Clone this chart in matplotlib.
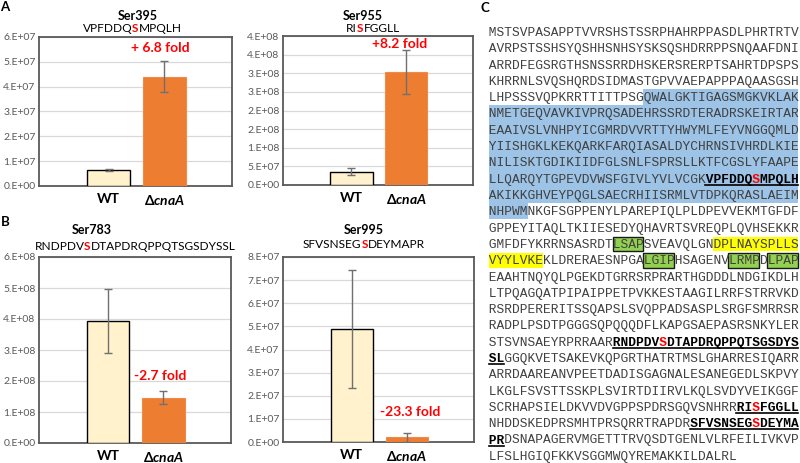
import matplotlib
matplotlib.use('Agg')
import matplotlib.pyplot as plt
from matplotlib.patches import Rectangle
from matplotlib.lines import Line2D
from matplotlib.font_manager import FontProperties, findfont, get_font

plt.rcParams['mathtext.fontset'] = 'custom'
plt.rcParams['mathtext.it'] = 'Lato:italic:bold'
plt.rcParams['mathtext.rm'] = 'Lato:bold'
plt.rcParams['mathtext.bf'] = 'Lato:bold'

SANS = ['Lato', 'DejaVu Sans']
MONO = 'Liberation Mono'

# ---------------- data ----------------
categories = ['WT', r'Δ$\it{cnaA}$']
site_titles = ['Ser395', 'Ser955', 'Ser783', 'Ser995']
peptides = ['VPFDDQSMPQLH', 'RISFGGLL', 'RNDPDVSDTAPDRQPPQTSGSDYSSL', 'SFVSNSEGSDEYMAPR']
site_index = [6, 2, 6, 8]
wt_values = [6.3e6, 3.6e7, 3.93e8, 4.9e7]
wt_errors = [0.4e6, 0.9e7, 1.04e8, 2.55e7]
cna_values = [4.4e7, 3.03e8, 1.46e8, 2.0e6]
cna_errors = [0.63e7, 0.6e8, 0.215e8, 1.9e6]
fold_labels = ['+ 6.8 fold', '+8.2 fold', '-2.7 fold', '-23.3 fold']
ytick_values = [
    [0, 1e7, 2e7, 3e7, 4e7, 5e7, 6e7],
    [0, 5e7, 1e8, 1.5e8, 2e8, 2.5e8, 3e8, 3.5e8, 4e8],
    [0, 1e8, 2e8, 3e8, 4e8, 5e8, 6e8],
    [0, 1e7, 2e7, 3e7, 4e7, 5e7, 6e7, 7e7, 8e7],
]
ytick_labels = [
    ['0.E+00', '1.E+07', '2.E+07', '3.E+07', '4.E+07', '5.E+07', '6.E+07'],
    ['0.E+00', '5.E+07', '1.E+08', '2.E+08', '2.E+08', '3.E+08', '3.E+08', '4.E+08', '4.E+08'],
    ['0.E+00', '1.E+08', '2.E+08', '3.E+08', '4.E+08', '5.E+08', '6.E+08'],
    ['0.E+00', '1.E+07', '2.E+07', '3.E+07', '4.E+07', '5.E+07', '6.E+07', '7.E+07', '8.E+07'],
]

seq_lines = [
    'MSTSVPASAPPTVVRSHSTSSRPHAHRPPASDLPHRTRTV',
    'AVRPSTSSHSYQSHHSNHSYSKSQSHDRRPPSNQAAFDNI',
    'ARRDFEGSRGTHSNSSRRDHSKERSRERPTSAHRTDPSPS',
    'KHRRNLSVQSHQRDSIDMASTGPVVAEPAPPPAQAASGSH',
    'LHPSSSVQPKRRTTITTPSGQWALGKTIGAGSMGKVKLAK',
    'NMETGEQVAVKIVPRQSADEHRSSRDTERADRSKEIRTAR',
    'EAAIVSLVNHPYICGMRDVVRTTYHWYMLFEYVNGGQMLD',
    'YIISHGKLKEKQARKFARQIASALDYCHRNSIVHRDLKIE',
    'NILISKTGDIKIIDFGLSNLFSPRSLLKTFCGSLYFAAPE',
    'LLQARQYTGPEVDVWSFGIVLYVLVCGKVPFDDQSMPQLH',
    'AKIKKGHVEYPQGLSAECRHIISRMLVTDPKQRASLAEIM',
    'NHPWMNKGFSGPPENYLPAREPIQLPLDPEVVEKMTGFDF',
    'GPPEYITAQLTKIIESEDYQHAVRTSVREQPLQVHSEKKR',
    'GMFDFYKRRNSASRDTLSAPSVEAVQLGNDPLNAYSPLLS',
    'VYYLVKEKLDRERAESNPGALGIPHSAGENVLRMPDLPAP',
    'EAAHTNQYQLPGEKDTGRRSRPRARTHGDDDLNDGIKDLH',
    'LTPQAGQATPIPAIPPETPVKKESTAAGILRRFSTRRVKD',
    'RSRDPERERITSSQAPSLSVQPPADSASPLSRGFSMRRSR',
    'RADPLPSDTPGGGSQPQQQDFLKAPGSAEPASRSNKYLER',
    'STSVNSAEYRPRRAARRNDPDVSDTAPDRQPPQTSGSDYS',
    'SLGGQKVETSAKEVKQPGRTHATRTMSLGHARRESIQARR',
    'ARRDAAREANVPEETDADISGAGNALESANEGEDLSKPVY',
    'LKGLFSVSTTSSKPLSVIRTDIIRVLKQLSVDYVEIKGGF',
    'SCRHAPSIELDKVVDVGPPSPDRSGQVSNHRRRISFGGLL',
    'NHDDSKEDPRSMHTPRSQRRTRAPDRSFVSNSEGSDEYMA',
    'PRDSNAPAGERVMGETTTRVQSDTGENLVLRFEILIVKVP',
    'LFSLHGIQFKKVSGGMWQYREMAKKILDALRL',
]
# (line, start, end) ranges
blue_ranges = [(4, 20, 40), (5, 0, 40), (6, 0, 40), (7, 0, 40), (8, 0, 40),
               (9, 0, 40), (10, 0, 40), (11, 0, 5)]
yellow_ranges = [(13, 29, 40), (14, 0, 7)]
green_ranges = [(13, 16, 20), (14, 20, 24), (14, 31, 35), (14, 36, 40)]
bold_ranges = [(9, 28, 40), (19, 16, 40), (20, 0, 2), (23, 32, 40), (24, 26, 40), (25, 0, 2)]
red_sites = [(9, 34), (19, 22), (23, 34), (24, 34)]

# ---------------- layout ----------------
W, H = 800, 463
DPI = 100
fig = plt.figure(figsize=(8, 4.63), dpi=DPI)

ov = fig.add_axes([0, 0, 1, 1], zorder=0)
ov.set_xlim(0, W)
ov.set_ylim(H, 0)
ov.axis('off')
ov.patch.set_alpha(0)

top = fig.add_axes([0, 0, 1, 1], zorder=10)
top.set_xlim(0, W)
top.set_ylim(H, 0)
top.axis('off')
top.patch.set_alpha(0)

axes_px = [(39, 37, 232, 186), (283, 36, 473, 185), (39, 257, 231, 443), (283, 257, 474, 442)]
title_xy = [(138, 16), (363, 16), (92, 230), (364, 230)]
pep_xy = [(132, 29), (373, 29), (135, 247), (364, 245)]
fold_xy = [(160, 48), (400, 44), (160, 376), (410, 412)]

WT_COLOR = '#FFF2CC'
CNA_COLOR = '#ED7D31'
GRAY = '#595959'

for k in range(4):
    x0, y0, x1, y1 = axes_px[k]
    ax = fig.add_axes([x0 / W, 1 - y1 / H, (x1 - x0) / W, (y1 - y0) / H], zorder=2)
    ax.bar([0], [wt_values[k]], width=0.77, color=WT_COLOR, edgecolor='black', linewidth=1.0, zorder=3)
    ax.bar([1], [cna_values[k]], width=0.77, color=CNA_COLOR, edgecolor='#F08A48', linewidth=0.8, zorder=3)
    ax.errorbar([0, 1], [wt_values[k], cna_values[k]], yerr=[wt_errors[k], cna_errors[k]],
                fmt='none', ecolor='#707070', elinewidth=1.0, capsize=3, capthick=1.0, zorder=4)
    ax.set_xlim(-1.25, 2.22)
    ax.set_ylim(0, ytick_values[k][-1])
    ax.set_yticks(ytick_values[k])
    ax.set_yticklabels(ytick_labels[k], fontsize=7.5, color=GRAY, family=SANS)
    ax.set_xticks([0, 1])
    ax.set_xticklabels(categories, fontsize=10, fontweight='bold', family=SANS)
    ax.tick_params(axis='both', length=0)
    ax.tick_params(axis='y', pad=2.5)
    ax.tick_params(axis='x', pad=5)
    ax.grid(axis='y', color='#D9D9D9', linewidth=0.9, zorder=0)
    ax.set_axisbelow(True)
    for sp in ax.spines.values():
        sp.set_color('#595959')
        sp.set_linewidth(1.3)
    fx, fy = fold_xy[k]
    top.text(fx, fy, fold_labels[k], color='#FF0000', fontsize=10, fontweight='bold',
             family=SANS, ha='center', va='center')


def advance_px(s, size_pt, weight='normal'):
    prop = FontProperties(family='Lato', weight=weight, size=size_pt)
    font = get_font(findfont(prop))
    font.set_size(size_pt, DPI)
    return sum(font.load_char(ord(ch)).linearHoriAdvance / 65536.0 for ch in s)


PEP_PT = 8.6
for k in range(4):
    tx, ty = title_xy[k]
    ov.text(tx, ty, site_titles[k], fontsize=9, fontweight='bold', family=SANS,
            ha='center', va='center', color='black')
    px, py = pep_xy[k]
    pep = peptides[k]
    i = site_index[k]
    pre, s, post = pep[:i], pep[i], pep[i + 1:]
    w_pre = advance_px(pre, PEP_PT)
    w_s = advance_px(s, PEP_PT, 'bold')
    w_post = advance_px(post, PEP_PT)
    left = px - (w_pre + w_s + w_post) / 2
    kw = dict(fontsize=PEP_PT, family=SANS, va='center', ha='left')
    ov.text(left, py, pre, color='black', **kw)
    ov.text(left + w_pre, py, s, color='#FF0000', fontweight='bold', **kw)
    ov.text(left + w_pre + w_s, py, post, color='black', **kw)

# panel letters
for lab, (lx, ly) in zip(['A', 'B', 'C'], [(5, 7), (5, 222), (485, 8)]):
    ov.text(lx, ly, lab, fontsize=9.5, fontweight='bold', family=SANS, ha='center', va='center')

# ---------------- panel C sequence ----------------
SX0 = 489.0
CW = 7.72
SY0 = 32.0
DY = 16.3
mono_pt = CW / 0.6 * 72 / DPI

for (li, s0, s1) in blue_ranges:
    yc = SY0 + li * DY
    ov.add_patch(Rectangle((SX0 + s0 * CW, yc - DY / 2), (s1 - s0) * CW, DY,
                           facecolor='#9DC3E6', edgecolor='none', zorder=1))
for (li, s0, s1) in yellow_ranges:
    yc = SY0 + li * DY
    ov.add_patch(Rectangle((SX0 + s0 * CW, yc - 7.0), (s1 - s0) * CW, 14.3,
                           facecolor='#FFFF00', edgecolor='none', zorder=1))
for (li, s0, s1) in green_ranges:
    yc = SY0 + li * DY
    ov.add_patch(Rectangle((SX0 + s0 * CW, yc - 7.0), (s1 - s0) * CW, 14.3,
                           facecolor='#92D050', edgecolor='#1a1a1a', linewidth=1.0, zorder=1))

bold_set = set()
for (li, s0, s1) in bold_ranges:
    for c in range(s0, s1):
        bold_set.add((li, c))
red_set = set(red_sites)

for li, line in enumerate(seq_lines):
    yc = SY0 + li * DY
    yb = yc + 4.0
    normal = ''.join(ch if (li, c) not in bold_set else ' ' for c, ch in enumerate(line))
    boldb = ''.join(ch if ((li, c) in bold_set and (li, c) not in red_set) else ' '
                    for c, ch in enumerate(line))
    boldr = ''.join(ch if (li, c) in red_set else ' ' for c, ch in enumerate(line))
    ov.text(SX0 - CW, yb, ' ' + normal, family=MONO, fontsize=mono_pt, color='#404040',
            ha='left', va='baseline', zorder=3)
    if boldb.strip():
        ov.text(SX0 - CW, yb, ' ' + boldb, family=MONO, fontsize=mono_pt, color='black',
                fontweight='bold', ha='left', va='baseline', zorder=3)
    if boldr.strip():
        ov.text(SX0 - CW, yb, ' ' + boldr, family=MONO, fontsize=mono_pt, color='#FF0000',
                fontweight='bold', ha='left', va='baseline', zorder=3)

for (li, s0, s1) in bold_ranges:
    yu = SY0 + li * DY + 6.2
    ov.add_line(Line2D([SX0 + s0 * CW, SX0 + s1 * CW], [yu, yu], color='black', linewidth=1.2, zorder=3))

fig.savefig('out.png', dpi=DPI)
